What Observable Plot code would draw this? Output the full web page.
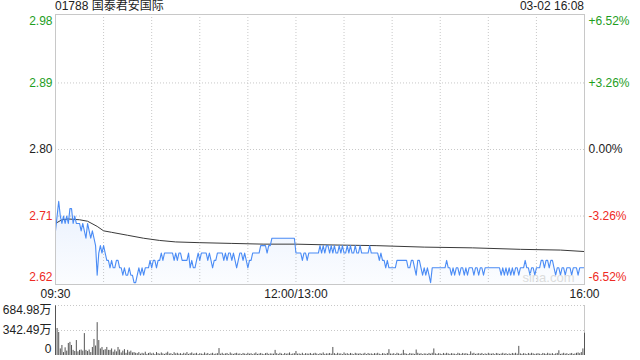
<!DOCTYPE html>
<html><head><meta charset="utf-8">
<script src="https://cdn.jsdelivr.net/npm/d3@7"></script>
<script src="https://cdn.jsdelivr.net/npm/@observablehq/plot@0.6"></script>
<style>
body{margin:0;background:#fff;}
#wrap{position:relative;width:640px;height:360px;overflow:hidden;font-family:"Liberation Sans","Noto Sans CJK SC",sans-serif;}
#wrap svg{position:absolute;left:0;overflow:visible;}
.hd{position:absolute;top:-1px;font-size:12px;color:#222;line-height:14px;white-space:nowrap;}
</style></head><body>
<div id="wrap">
  <div class="hd" id="title" style="left:55px"></div>
  <div class="hd" id="stamp" style="right:56px"></div>
</div>
<script>
const titleText = "01788 国泰君安国际";
const stampText = "03-02 16:08";
const prevClose = 2.80;
const priceTicks = [2.98, 2.89, 2.80, 2.71, 2.62];
const pctTicks = ["+6.52%", "+3.26%", "0.00%", "-3.26%", "-6.52%"];
const timeTickMinutes = [0, 150, 330];
const timeTickLabels = ["09:30", "12:00/13:00", "16:00"];
const gridMinutes = [30, 60, 90, 120, 150, 180, 210, 240, 270, 300];
const volTicks = [0, 342.49, 684.98];
const volTickLabels = ["0", "342.49万", "684.98万"];

// one price per minute, 09:30 .. 16:00
const price = [
2.69,2.71,2.73,2.71,2.70,2.71,2.70,2.71,2.70,2.72,
2.72,2.70,2.71,2.70,2.70,2.70,2.69,2.70,2.69,2.68,
2.70,2.69,2.68,2.69,2.68,2.67,2.63,2.66,2.67,2.66,
2.67,2.66,2.65,2.65,2.64,2.65,2.64,2.64,2.65,2.65,
2.64,2.64,2.63,2.64,2.63,2.63,2.64,2.63,2.63,2.62,
2.62,2.63,2.64,2.63,2.64,2.63,2.64,2.64,2.64,2.65,
2.64,2.65,2.65,2.64,2.65,2.65,2.66,2.65,2.66,2.66,
2.66,2.66,2.66,2.66,2.65,2.66,2.65,2.66,2.66,2.65,
2.65,2.65,2.65,2.66,2.64,2.65,2.64,2.64,2.65,2.66,
2.65,2.66,2.66,2.66,2.66,2.65,2.66,2.65,2.64,2.65,
2.65,2.66,2.66,2.66,2.66,2.65,2.66,2.65,2.66,2.66,
2.65,2.66,2.65,2.64,2.65,2.66,2.66,2.65,2.66,2.65,
2.64,2.65,2.65,2.66,2.66,2.66,2.66,2.66,2.67,2.67,
2.67,2.67,2.66,2.67,2.67,2.68,2.68,2.68,2.68,2.68,
2.68,2.68,2.68,2.68,2.68,2.68,2.68,2.68,2.68,2.68,
2.66,2.66,2.66,2.66,2.65,2.66,2.66,2.65,2.66,2.66,
2.66,2.66,2.66,2.66,2.66,2.67,2.66,2.67,2.66,2.67,
2.67,2.66,2.67,2.66,2.67,2.66,2.66,2.67,2.66,2.67,
2.66,2.66,2.67,2.66,2.67,2.66,2.66,2.67,2.66,2.66,
2.67,2.66,2.66,2.66,2.66,2.66,2.67,2.66,2.66,2.66,
2.66,2.66,2.65,2.66,2.65,2.65,2.64,2.65,2.64,2.64,
2.64,2.64,2.64,2.65,2.65,2.65,2.65,2.65,2.65,2.65,
2.64,2.64,2.65,2.65,2.64,2.63,2.65,2.65,2.64,2.63,
2.64,2.63,2.64,2.63,2.62,2.64,2.64,2.64,2.64,2.64,
2.64,2.64,2.64,2.64,2.65,2.64,2.64,2.63,2.64,2.63,
2.64,2.64,2.63,2.64,2.64,2.63,2.64,2.63,2.64,2.64,
2.64,2.63,2.64,2.64,2.63,2.64,2.64,2.63,2.64,2.64,
2.64,2.64,2.64,2.64,2.64,2.64,2.64,2.64,2.63,2.64,
2.63,2.64,2.63,2.64,2.63,2.64,2.63,2.64,2.64,2.63,
2.64,2.64,2.64,2.65,2.64,2.64,2.63,2.64,2.64,2.63,
2.64,2.64,2.64,2.65,2.65,2.64,2.65,2.65,2.64,2.65,
2.65,2.64,2.63,2.64,2.64,2.63,2.64,2.64,2.63,2.64,
2.64,2.64,2.63,2.64,2.64,2.64,2.63,2.64,2.64,2.64,
2.64
];

// average price line, read at sample minutes
const avgMinutes = [0, 4, 8, 15, 20, 26, 30, 35, 45, 55, 65, 75, 90, 110, 130, 150, 170, 200, 230, 260, 290, 315, 330];
const avgPrice = [2.700, 2.705, 2.706, 2.705, 2.703, 2.696, 2.690, 2.688, 2.684, 2.680, 2.677, 2.675, 2.674, 2.673, 2.672, 2.672, 2.671, 2.670, 2.668, 2.667, 2.665, 2.664, 2.662];

// volume per minute (万)
const volume = [
680,370,315,90,137,40,105,60,165,180,
137,70,55,205,50,70,75,60,300,70,
55,75,40,110,220,130,450,205,90,110,
70,80,110,70,70,90,45,75,50,110,
75,35,60,80,30,70,45,60,35,40,
30,25,40,18,30,22,45,15,28,35,
20,30,12,40,25,18,35,22,15,30,
45,20,25,12,38,22,30,18,25,15,
30,20,40,15,25,35,18,22,30,12,
25,20,15,35,18,28,12,22,30,15,
20,25,95,18,30,15,22,28,12,35,
20,15,25,30,18,22,12,28,20,15,
30,18,25,12,22,35,15,20,28,18,
12,25,30,15,22,20,18,70,25,15,
30,20,12,28,18,22,35,15,20,25,
55,18,22,15,30,12,25,20,18,28,
15,22,30,20,12,25,18,35,15,22,
20,28,18,110,25,15,30,20,22,12,
35,18,25,15,28,20,12,30,22,18,
25,15,20,30,12,28,18,22,15,25,
20,30,18,12,25,22,15,28,80,20,
18,25,12,30,22,15,20,70,25,18,
12,28,20,22,15,75,30,18,25,12,
22,20,15,28,18,30,90,22,15,25,
20,12,28,18,30,22,15,25,20,18,
12,30,22,15,28,20,25,18,12,50,
22,30,15,20,25,18,28,12,22,15,
30,20,18,25,12,28,22,15,20,30,
18,25,12,22,15,28,20,30,18,125,
22,15,25,20,12,28,18,30,22,15,
20,25,18,12,28,22,15,30,20,18,
25,12,22,28,65,15,20,30,18,25,
12,22,28,15,20,30,35,25,40,90,
305
];

document.getElementById("title").textContent = titleText;
document.getElementById("stamp").textContent = stampText;

const W = 640, ML = 55, MR = 56;
const up = "#1e9e1e", down = "#ee2a24", flat = "#222";
const colorOf = v => v > prevClose + 1e-9 ? up : v < prevClose - 1e-9 ? down : flat;
const yMin = prevClose * (1 - 0.0652), yMax = prevClose * (1 + 0.0652);
const xDomain = [0, 330];
const pts = price.map((p, i) => ({m: i, p}));
const avg = avgMinutes.map((m, i) => ({m, p: avgPrice[i]}));
const tickRows = priceTicks.map((v, i) => ({v, pct: pctTicks[i], i}));
const edgeDy = i => i === 0 ? 5 : i === priceTicks.length - 1 ? -5 : 0;
const font = '"Liberation Sans","Noto Sans CJK SC",sans-serif';

const defs = () => {
  const d = d3.create("svg:defs");
  const g = d.append("linearGradient").attr("id", "pfill").attr("x1", 0).attr("y1", 0).attr("x2", 0).attr("y2", 1);
  g.append("stop").attr("offset", "0%").attr("stop-color", "#4a8af4").attr("stop-opacity", 0.12);
  g.append("stop").attr("offset", "100%").attr("stop-color", "#4a8af4").attr("stop-opacity", 0.02);
  return d.node();
};

const priceLabelMarks = tickRows.flatMap(r => [
  Plot.text([r], {x: xDomain[0], y: "v", text: d => d.v.toFixed(2), textAnchor: "end", dx: -3, dy: edgeDy(r.i),
    fill: colorOf(r.v), fontSize: 12}),
  Plot.text([r], {x: xDomain[1], y: "v", text: "pct", textAnchor: "start", dx: 4, dy: edgeDy(r.i),
    fill: colorOf(r.v), fontSize: 12})
]);

const pricePlot = Plot.plot({
  width: W, height: 300,
  marginTop: 14, marginBottom: 16, marginLeft: ML, marginRight: MR,
  x: {domain: xDomain, axis: null},
  y: {domain: [yMin, yMax], axis: null},
  style: {fontFamily: font, fontSize: "12px", background: "transparent"},
  marks: [
    defs,
    Plot.ruleX(gridMinutes, {stroke: "#c8c8c8", strokeDasharray: "1,2"}),
    Plot.ruleY(priceTicks.slice(1, -1), {stroke: "#c8c8c8", strokeDasharray: "1,2"}),
    Plot.areaY(pts, {x: "m", y1: yMin, y2: "p", fill: "url(#pfill)"}),
    Plot.line(avg, {x: "m", y: "p", stroke: "#3a3a3a", strokeWidth: 1}),
    Plot.line(pts, {x: "m", y: "p", stroke: "#4b8cf5", strokeWidth: 1.1}),
    Plot.frame({stroke: "#c8c8c8"}),
    ...priceLabelMarks,
    Plot.text(timeTickMinutes, {x: d => d, y: yMin, text: (d, i) => timeTickLabels[i], dy: 10,
      textAnchor: (d, i) => i === 0 ? "start" : i === timeTickMinutes.length - 1 ? "end" : "middle", fill: "#222", fontSize: 12}),
    Plot.text(["sina.com"], {x: xDomain[1], y: yMin, text: d => d, dx: -10, dy: -7, textAnchor: "end", fill: "#dcdcdc", fontSize: 13})
  ]
});
pricePlot.style.top = "0px";
document.getElementById("wrap").appendChild(pricePlot);

const volPts = volume.map((v, i) => ({m: i, v}));
const volDy = [-6, 0, 5];
const volLabelMarks = volTicks.map((v, i) =>
  Plot.text([v], {x: xDomain[0], y: d => d, text: () => volTickLabels[i], textAnchor: "end", dx: -4, dy: volDy[i], fill: "#222", fontSize: 12}));
const volPlot = Plot.plot({
  width: W, height: 60,
  marginTop: 5, marginBottom: 5, marginLeft: ML, marginRight: MR,
  x: {domain: xDomain, axis: null},
  y: {domain: [0, volTicks[2]], axis: null},
  style: {fontFamily: font, fontSize: "12px", background: "transparent"},
  marks: [
    Plot.ruleY(volTicks.slice(1), {stroke: "#c8c8c8", strokeDasharray: "1,2"}),
    Plot.ruleX([xDomain[0], xDomain[1]], {stroke: "#c8c8c8"}),
    Plot.ruleX(volPts, {x: "m", y1: 0, y2: "v", stroke: "#555", strokeWidth: 1}),
    ...volLabelMarks
  ]
});
volPlot.style.top = "300px";
document.getElementById("wrap").appendChild(volPlot);
</script>
</body></html>
